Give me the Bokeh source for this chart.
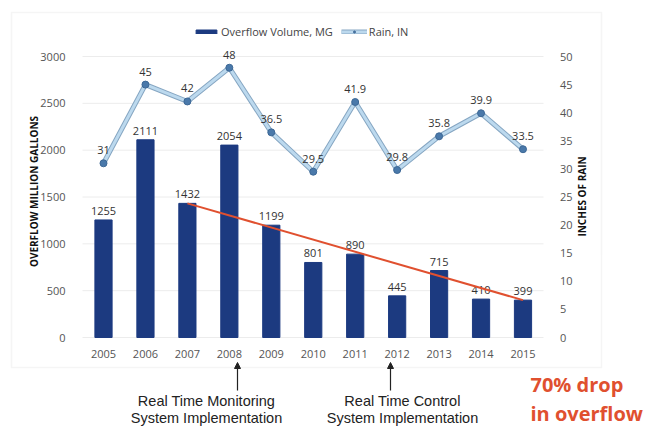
import math
from bokeh.plotting import figure
from bokeh.models import (Range1d, LinearAxis, FixedTicker, Legend, LegendItem,
                          ColumnDataSource, Label, Arrow, NormalHead, BoxAnnotation)
from bokeh.embed import file_html
from bokeh.resources import INLINE

# ---- data ----
years = [2005, 2006, 2007, 2008, 2009, 2010, 2011, 2012, 2013, 2014, 2015]
overflow = [1255, 2111, 1432, 2054, 1199, 801, 890, 445, 715, 410, 399]
rain = [31, 45, 42, 48, 36.5, 29.5, 41.9, 29.8, 35.8, 39.9, 33.5]
rain_labels = ["31", "45", "42", "48", "36.5", "29.5", "41.9", "29.8", "35.8", "39.9", "33.5"]
left_ticks = [0, 500, 1000, 1500, 2000, 2500, 3000]
right_ticks = [0, 5, 10, 15, 20, 25, 30, 35, 40, 45, 50]
trend_years = [years[2], years[-1]]
trend_values = [overflow[2], overflow[-1]]

# ---- layout: the frame covers the whole canvas; pixel -> data helpers ----
W, H = 656, 426
PX_FIRST, PX_LAST = 103.0, 522.5      # pixel centres of first / last year
SX = (PX_LAST - PX_FIRST) / (years[-1] - years[0])
PY0, PY3000 = 337.0, 56.0             # pixel rows of 0 and 3000
SY = (PY0 - PY3000) / 3000.0
RAIN_K = 50.0 / 3000.0


def fx(px):
    return years[0] + (px - PX_FIRST) / SX


def fy(py):
    return (PY0 - py) / SY


FONT = "Open Sans"

p = figure(width=W, height=H, output_backend="svg", toolbar_location=None,
           x_range=Range1d(fx(0), fx(W)), y_range=Range1d(fy(H), fy(0)),
           min_border_left=0, min_border_right=0, min_border_top=0,
           min_border_bottom=0, outline_line_color=None)
p.extra_y_ranges = {"rain": Range1d(fy(H) * RAIN_K, fy(0) * RAIN_K)}
p.xgrid.visible = False
p.ygrid.visible = False

# outer frame box
p.add_layout(BoxAnnotation(left=fx(11), right=fx(601), top=fy(12), bottom=fy(367),
                           fill_alpha=0, line_color="#dedede", line_width=1.5))

# faint horizontal gridlines at left ticks
p.segment(x0=[fx(82)] * len(left_ticks), x1=[fx(543)] * len(left_ticks),
          y0=left_ticks, y1=left_ticks, line_color="#ececec", line_width=1)

src = ColumnDataSource(dict(x=years, o=overflow, r=rain,
                            ol=[str(v) for v in overflow], rl=rain_labels))

bars = p.vbar(x="x", top="o", width=0.41, source=src, color="#1c3a80")
p.text(x="x", y="o", text="ol", source=src, text_align="center",
       text_baseline="bottom", y_offset=-5, text_font_size="11px",
       text_color="#333333", text_font={"value": FONT})

l1 = p.line(x="x", y="r", source=src, y_range_name="rain", line_width=5,
            line_color="#86a6c2")
l2 = p.line(x="x", y="r", source=src, y_range_name="rain", line_width=3,
            line_color="#bcd9ee")
sc = p.scatter(x="x", y="r", source=src, y_range_name="rain", size=7,
               fill_color="#4a79aa", line_color="#3d6896")
p.text(x="x", y="r", text="rl", source=src, y_range_name="rain",
       text_align="center", text_baseline="bottom", y_offset=-9,
       text_font_size="11px", text_color="#333333", text_font={"value": FONT})

p.line(x=trend_years, y=trend_values, line_color="#e0502f", line_width=2)

# axes drawn at fixed locations inside the (full-canvas) frame
p.xaxis.ticker = FixedTicker(ticks=years)
p.xaxis.fixed_location = 0
p.yaxis.ticker = FixedTicker(ticks=left_ticks)
p.yaxis.fixed_location = fx(82)
for ax in [p.xaxis[0], p.yaxis[0]]:
    ax.axis_line_color = None
    ax.major_tick_line_color = None
    ax.minor_tick_line_color = None
    ax.major_label_text_font = FONT
    ax.major_label_text_font_size = "11px"
    ax.major_label_text_color = "#555555"
p.xaxis.major_label_standoff = 6
p.yaxis.major_label_standoff = 11

ra = LinearAxis(y_range_name="rain", ticker=FixedTicker(ticks=right_ticks),
                fixed_location=fx(543.5))
ra.axis_line_color = None
ra.major_tick_line_color = None
ra.minor_tick_line_color = None
ra.major_label_text_font = FONT
ra.major_label_text_font_size = "11px"
ra.major_label_text_color = "#555555"
ra.major_label_standoff = 10
p.add_layout(ra, "right")

# axis titles
for px, py, t in [(33, 191, "OVERFLOW MILLION GALLONS"), (581, 196, "INCHES OF RAIN")]:
    p.add_layout(Label(x=fx(px), y=fy(py), text=t, angle=math.pi / 2,
                       text_align="center", text_baseline="middle",
                       text_font=FONT, text_font_style="bold", text_font_size="10px",
                       text_color="#111111"))

# legend
legend = Legend(items=[LegendItem(label="Overflow Volume, MG", renderers=[bars]),
                       LegendItem(label="Rain, IN", renderers=[l1, l2, sc])],
                orientation="horizontal", location=(193, H - 39),
                border_line_color=None, background_fill_alpha=0,
                padding=0, margin=0, spacing=8, label_standoff=2,
                glyph_width=26, glyph_height=5, label_height=16,
                label_text_font=FONT, label_text_font_size="11px",
                label_text_color="#444444")
p.add_layout(legend)

# annotations below the chart
notes = [(2008, 237, ["Real Time Monitoring", "System Implementation"], 206),
         (2012, 390, ["Real Time Control", "System Implementation"], 402)]
for _, arrow_px, lines, cx in notes:
    p.add_layout(Arrow(x_start=fx(arrow_px), y_start=fy(390),
                       x_end=fx(arrow_px), y_end=fy(362),
                       line_color="#222222", line_width=1.2,
                       end=NormalHead(size=6, fill_color="#222222", line_color="#222222")))
    for i, t in enumerate(lines):
        p.add_layout(Label(x=fx(cx), y=fy(400 + 17.5 * i), text=t, text_align="center",
                           text_baseline="middle", text_font="Liberation Sans",
                           text_font_size="14.5px", text_color="#222222"))

for i, t in enumerate(["70% drop", "in overflow"]):
    p.add_layout(Label(x=fx(530), y=fy(384 + 29 * i), text=t, text_align="left",
                       text_baseline="middle", text_font=FONT, text_font_style="bold",
                       text_font_size="20px", text_color="#e0502f"))

open("out.html", "w").write(file_html(p, INLINE))
